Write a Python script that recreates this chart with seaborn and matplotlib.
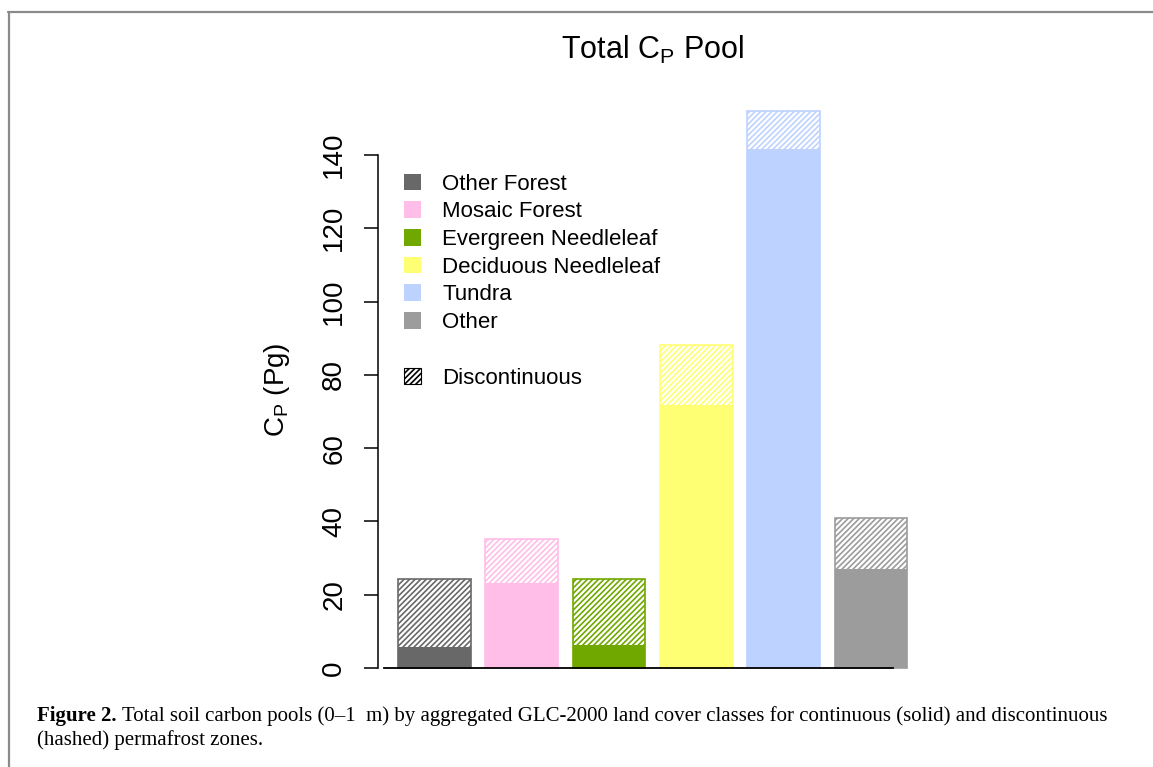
import matplotlib
matplotlib.use('Agg')
import matplotlib.pyplot as plt
import seaborn as sns
import pandas as pd
from matplotlib.patches import Patch
from matplotlib.lines import Line2D

# values (Pg)
classes = ['Other Forest', 'Mosaic Forest', 'Evergreen Needleleaf',
           'Deciduous Needleleaf', 'Tundra', 'Other']
continuous = [5.7, 23.2, 6.3, 71.8, 141.6, 27.0]
discontinuous = [18.6, 12.0, 18.0, 16.4, 10.4, 13.9]
colors = ['#686868', '#FFBEE8', '#70A800', '#FFFF73', '#BED2FF', '#9C9C9C']
yticks = [0, 20, 40, 60, 80, 100, 120, 140]

sns.set_style('white')
plt.rcParams['font.family'] = ['Liberation Sans', 'DejaVu Sans']
plt.rcParams['hatch.linewidth'] = 1.2
plt.rcParams['text.color'] = 'black'
plt.rcParams['axes.labelcolor'] = 'black'
plt.rcParams['ytick.color'] = 'black'
plt.rcParams['xtick.color'] = 'black'

df = pd.DataFrame({'cls': classes, 'cont': continuous, 'disc': discontinuous})
df['total'] = df['cont'] + df['disc']

fig = plt.figure(figsize=(11.53, 7.67), dpi=100)
ax = fig.add_axes([0.3276, 0.1004, 0.477, 0.7836])

# hashed bars (whole column), then solid continuous part on top
sns.barplot(data=df, x='cls', y='total', hue='cls', palette=colors, fill=False,
            hatch='//////', width=0.833, saturation=1, legend=False, errorbar=None,
            linewidth=1.2, ax=ax)
sns.barplot(data=df, x='cls', y='cont', hue='cls', palette=colors,
            width=0.833, saturation=1, legend=False, errorbar=None,
            linewidth=0, ax=ax)

ax.set_xlim(-0.65, 5.65)
ax.set_ylim(-6, 158)
ax.set_xticks([])
ax.set_xlabel('')
ax.set_yticks(yticks)
ax.tick_params(axis='y', left=True, labelrotation=90, length=10, width=1.1,
               pad=12, labelsize=20, direction='out', color='black',
               labelcolor='black')
for t in ax.get_yticklabels():
    t.set_va('center')

sns.despine(ax=ax, top=True, right=True)
ax.spines['left'].set_bounds(0, 140)
ax.spines['left'].set_color('black')
ax.spines['left'].set_linewidth(1.1)
ax.spines['bottom'].set_position(('data', 0))
ax.spines['bottom'].set_bounds(-0.583, 5.25)
ax.spines['bottom'].set_color('black')
ax.spines['bottom'].set_linewidth(1.3)

ax.set_ylabel(r'C$_\mathregular{P}$ (Pg)', fontsize=20, color='black')
ax.yaxis.set_label_coords(-0.155, 0.5)

fig.text(652.7 / 1153, 1 - 50 / 767, r'Total C$_\mathregular{P}$ Pool',
         ha='center', va='center', fontsize=22, color='black')

# legend
handles = [Patch(facecolor=c, edgecolor=c, lw=0) for c in colors]
handles += [Patch(facecolor='none', edgecolor='none'),
            Patch(facecolor='white', edgecolor='black', hatch='//////', lw=0.8)]
labels = classes + ['', 'Discontinuous']
leg = ax.legend(handles, labels, loc='upper left', bbox_to_anchor=(0.0478, 0.859),
                frameon=False, fontsize=16, handlelength=0.77, handleheight=0.77,
                handletextpad=0.95, labelspacing=0.3, borderpad=0, borderaxespad=0)
for t in leg.get_texts():
    t.set_color('black')

# caption
cap_font = ['Liberation Serif', 'DejaVu Serif']
t1 = fig.text(37 / 1153, 1 - 721 / 767, 'Figure 2.', fontweight='bold',
              family=cap_font, fontsize=15, va='baseline', color='black')
renderer = fig.canvas.get_renderer()
bb = t1.get_window_extent(renderer)
fig.text(bb.x1 / fig.bbox.width + 5 / 1153, 1 - 721 / 767,
         'Total soil carbon pools (0\u20131  m) by aggregated GLC-2000 land cover classes '
         'for continuous (solid) and discontinuous',
         family=cap_font, fontsize=15, va='baseline', color='black')
fig.text(37 / 1153, 1 - 745 / 767, '(hashed) permafrost zones.',
         family=cap_font, fontsize=15, va='baseline', color='black')

# page frame
fig.add_artist(Line2D([8 / 1153, 1], [1 - 12 / 767] * 2, transform=fig.transFigure,
                      color='#8a8a8a', lw=1.6))
fig.add_artist(Line2D([9 / 1153] * 2, [0, 1 - 12 / 767], transform=fig.transFigure,
                      color='#8a8a8a', lw=1.6))

fig.savefig('out.png', dpi=100)
